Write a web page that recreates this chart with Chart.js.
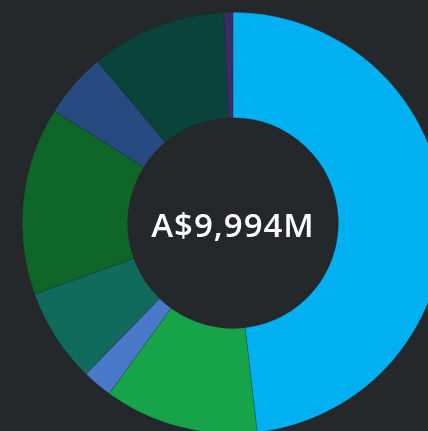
<!DOCTYPE html>
<html>
<head>
<meta charset="utf-8">
<script src="https://cdn.jsdelivr.net/npm/chart.js@4"></script>
<style>
  html, body { margin: 0; padding: 0; width: 428px; height: 431px; overflow: hidden; background: #25282b; }
  #wrap { position: absolute; left: 22px; top: 12px; }
</style>
</head>
<body>
<div id="wrap"><canvas id="donut" width="422" height="422"></canvas></div>
<script>
// segments clockwise from 12 o'clock, A$ millions
const segmentos = ['A', 'B', 'C', 'D', 'E', 'F', 'G', 'H'];
const valores = [4814, 1182, 228, 725, 1438, 497, 1042, 68];
const colores = ['#00b0f0', '#16a34a', '#4a78c8', '#106b5c', '#0e6629', '#274a80', '#0a4339', '#3d2b66'];
const totalTexto = 'A$9,994M';

const textoCentro = {
  id: 'textoCentro',
  afterDraw(chart) {
    const ctx = chart.ctx;
    const meta = chart.getDatasetMeta(0).data[0];
    ctx.save();
    ctx.fillStyle = '#ffffff';
    ctx.font = '600 33px "Open Sans"';
    ctx.letterSpacing = '1px';
    ctx.textAlign = 'center';
    ctx.textBaseline = 'alphabetic';
    ctx.fillText(totalTexto, meta.x, meta.y + 14);
    ctx.restore();
  }
};

new Chart(document.getElementById('donut').getContext('2d'), {
  type: 'doughnut',
  data: {
    labels: segmentos,
    datasets: [{
      data: valores,
      backgroundColor: colores,
      borderColor: 'rgba(30,32,35,0.4)',
      borderWidth: 0.5
    }]
  },
  options: {
    responsive: false,
    animation: false,
    cutout: '50%',
    layout: { padding: 0 },
    plugins: {
      legend: { display: false },
      tooltip: { enabled: false }
    }
  },
  plugins: [textoCentro]
});
</script>
</body>
</html>
